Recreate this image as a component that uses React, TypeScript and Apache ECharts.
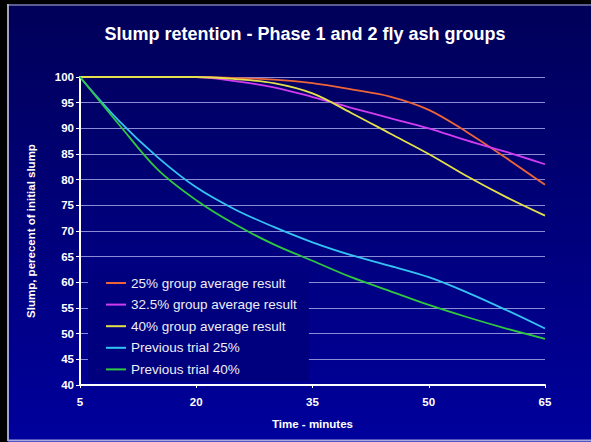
import React, { useEffect, useRef } from "react";
import * as echarts from "echarts";

const minutes = [5, 10, 15, 20, 25, 30, 35, 40, 45, 50, 55, 60, 65];
const xTicks = [5, 20, 35, 50, 65];
const group25 = [100, 100, 100, 100, 99.8, 99.5, 98.8, 97.6, 96.2, 93.6, 89.2, 84.2, 79];
const group325 = [100, 100, 100, 100, 99.2, 98, 96.1, 94, 92, 90, 87.6, 85.4, 83];
const group40 = [100, 100, 100, 100, 99.6, 98.8, 96.8, 93, 89, 85, 80.6, 76.6, 73];
const prev25 = [100, 91.5, 84.4, 78.5, 74.2, 70.8, 67.8, 65.3, 63.2, 61, 58, 54.6, 51];
const prev40 = [100, 90.8, 82, 76, 71.3, 67.4, 64.2, 61, 58.3, 55.6, 53.2, 51, 49];
const seriesNames = [
  "25% group average result",
  "32.5% group average result",
  "40% group average result",
  "Previous trial 25%",
  "Previous trial 40%",
];
const seriesColors = ["#ec6438", "#d23cf0", "#e4e04c", "#34c4f4", "#30c840"];
const seriesValues = [group25, group325, group40, prev25, prev40];

const FONT = "'Liberation Sans', Arial, sans-serif";

export default function App() {
  const ref = useRef<HTMLDivElement>(null);
  useEffect(() => {
    if (!ref.current) return;
    const chart = echarts.init(ref.current, undefined, { renderer: "svg" });
    chart.setOption({
      animation: false,
      backgroundColor: {
        type: "linear",
        x: 0,
        y: 0,
        x2: 0,
        y2: 1,
        colorStops: [
          { offset: 0, color: "#000058" },
          { offset: 1, color: "#00009c" },
        ],
      },
      textStyle: { fontFamily: FONT },
      title: {
        text: "Slump retention - Phase 1 and 2 fly ash groups",
        left: 300,
        textAlign: "center",
        top: 20,
        textStyle: { color: "#ffffff", fontSize: 18, fontWeight: "bold", fontFamily: FONT },
      },
      grid: { left: 80, right: 46, top: 77, bottom: 57, containLabel: false },
      legend: {
        orient: "vertical",
        left: 88,
        top: 271,
        padding: [5, 12, 5, 17],
        itemWidth: 20,
        itemHeight: 12,
        itemGap: 7.6,
        backgroundColor: "#00007e",
        data: seriesNames,
        itemStyle: { opacity: 0 },
        lineStyle: { width: 2 },
        textStyle: { color: "#eeeef4", fontSize: 13.5, lineHeight: 14, fontFamily: FONT },
      },
      xAxis: {
        type: "value",
        min: 5,
        max: 65,
        name: "Time - minutes",
        nameLocation: "middle",
        nameGap: 33,
        nameTextStyle: { color: "#ffffff", fontSize: 11.5, fontWeight: "bold", fontFamily: FONT },
        axisLine: { show: true, lineStyle: { color: "#ffffff", width: 2 } },
        axisTick: { show: true, customValues: xTicks, length: 3, lineStyle: { color: "#ffffff" } },
        axisLabel: { customValues: xTicks, color: "#ffffff", fontSize: 11.5, fontWeight: "bold", margin: 11, fontFamily: FONT },
        splitLine: { show: false },
      },
      yAxis: {
        type: "value",
        min: 40,
        max: 100,
        interval: 5,
        name: "Slump, perecent of initial slump",
        nameLocation: "middle",
        nameGap: 43,
        nameTextStyle: { color: "#ffffff", fontSize: 11.5, fontWeight: "bold", fontFamily: FONT },
        axisLine: { show: true, lineStyle: { color: "#ffffff", width: 2 } },
        axisTick: { show: true, length: 4, lineStyle: { color: "#ffffff" } },
        axisLabel: { color: "#ffffff", fontSize: 11.5, fontWeight: "bold", margin: 6, fontFamily: FONT },
        splitLine: { show: true, lineStyle: { color: "#8c8cd6", width: 1 } },
      },
      series: seriesNames.map((name, i) => ({
        name,
        type: "line",
        smooth: 0.35,
        symbol: "none",
        showSymbol: false,
        color: seriesColors[i],
        lineStyle: { color: seriesColors[i], width: 1.8 },
        data: minutes.map((m, j) => [m, seriesValues[i][j]]),
      })),
      graphic: [
        { type: "rect", shape: { x: 0, y: 0, width: 7, height: 442 }, style: { fill: "#000000" }, z: 100 },
        { type: "rect", shape: { x: 0, y: 0, width: 591, height: 4 }, style: { fill: "#000000" }, z: 100 },
        { type: "line", shape: { x1: 8, y1: 4, x2: 8, y2: 441 }, style: { stroke: "#d8d8e8", lineWidth: 1.5 }, z: 100 },
        { type: "line", shape: { x1: 7, y1: 5, x2: 591, y2: 5 }, style: { stroke: "#b8b8d0", lineWidth: 1 }, z: 100 },
        { type: "line", shape: { x1: 8, y1: 440.5, x2: 591, y2: 440.5 }, style: { stroke: "#a8a8e0", lineWidth: 2 }, z: 100 },
      ],
    });
    return () => chart.dispose();
  }, []);
  return (
    <div
      ref={ref}
      style={{ position: "absolute", left: 0, top: 0, width: 591, height: 442 }}
    />
  );
}
